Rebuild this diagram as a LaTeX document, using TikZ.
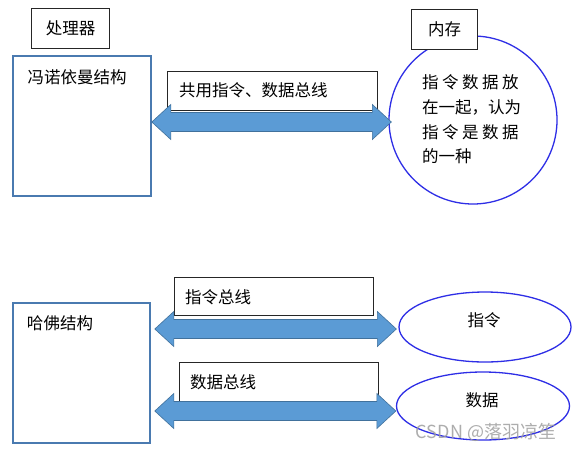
\documentclass[tikz,border=0pt]{standalone}
\usepackage{fontspec}
\setmainfont{Noto Sans CJK SC}
\usetikzlibrary{shapes.geometric,calc}
\definecolor{boxblue}{HTML}{4A7AB0}
\definecolor{ringblue}{HTML}{2E2EE6}
\definecolor{busfill}{HTML}{5B9BD5}
\definecolor{busline}{HTML}{41719C}
\newcommand\busarrow[2]{%
  \filldraw[busstyle] let \p1=(#1), \p2=(#2) in
  (\x1,\y1) -- (\x1+19pt,\y1+17.5pt) -- (\x1+19pt,\y1+9.5pt) -- (\x2-19pt,\y1+9.5pt)
  -- (\x2-19pt,\y1+17.5pt) -- (\x2,\y1) -- (\x2-19pt,\y1-17.5pt) -- (\x2-19pt,\y1-9.5pt)
  -- (\x1+19pt,\y1-9.5pt) -- (\x1+19pt,\y1-17.5pt) -- cycle;}
\begin{document}
\begin{tikzpicture}[x=1pt,y=-1pt,
  every node/.style={font=\fontsize{16.5}{20}\selectfont, inner sep=0pt},
  labelbox/.style={draw=black!85, line width=1pt, fill=white},
  archbox/.style={draw=boxblue, line width=1.8pt},
  ring/.style={draw=ringblue, line width=1.3pt, fill=white},
  busstyle/.style={fill=busfill, draw=busline, line width=0.6pt}]
\fill[white] (0,0) rectangle (575,450);
\useasboundingbox (0,0) rectangle (575,450);

% ---- von Neumann ----
\node[labelbox, anchor=north west, minimum width=78pt, minimum height=40pt] (proc) at (31,8) {处理器};
\node[archbox, anchor=north west, minimum width=138pt, minimum height=140pt] (vn) at (12,55) {};
\node (vnt) at (77,77) {冯诺依曼结构};
\node[labelbox, anchor=north west, minimum width=210pt, minimum height=39pt] (bus) at (167,71) {};
\node[anchor=west] (bust) at (179,90) {共用指令、数据总线};
\node[ring, circle, minimum size=168pt] (mem) at (473,120) {};
\node[labelbox, anchor=north west, minimum width=66pt, minimum height=40pt] (memlbl) at (411,9) {内存};
\node[anchor=west] (ct1) at (422,82) {指\kern3.5pt令\kern3.5pt数\kern3.5pt据\kern3.5pt放};
\node[anchor=west] (ct2) at (422,107) {在一起，认为};
\node[anchor=west] (ct3) at (422,132) {指\kern3.5pt令\kern3.5pt是\kern3.5pt数\kern3.5pt据};
\node[anchor=west] (ct4) at (422,156) {的一种};
\coordinate (y1) at (0,122);
\coordinate (a1l) at (vn.east |- y1);
\coordinate (a1r0) at ([xshift=3pt]mem.west);
\coordinate (a1r) at (a1r0 |- y1);
\busarrow{a1l}{a1r}

% ---- Harvard ----
\node[archbox, anchor=north west, minimum width=137pt, minimum height=140pt] (hv) at (12,302) {};
\node (hvt) at (60,323) {哈佛结构};
\node[labelbox, anchor=north west, minimum width=199pt, minimum height=38pt] (ibus) at (174,277) {};
\node[anchor=west] (ibust) at (185,297) {指令总线};
\node[ring, ellipse, minimum width=172pt, minimum height=70pt] (ins) at (485,327) {};
\node (inst) at (484,320) {指令};
\node[labelbox, anchor=north west, minimum width=199pt, minimum height=39pt] (dbus) at (179,362) {};
\node[anchor=west] (dbust) at (190,382) {数据总线};
\node[ring, ellipse, minimum width=173pt, minimum height=68pt] (dat) at (483,406) {};
\node (datt) at (482,400) {数据};

\coordinate (y2) at (0,329);
\coordinate (y3) at (0,411);
\coordinate (h0) at ([xshift=4pt]hv.east);
\coordinate (i0) at ([xshift=-2pt]ins.west);
\coordinate (d0) at ([xshift=0pt]dat.west);
\coordinate (a2l) at (h0 |- y2);
\coordinate (a2r) at (i0 |- y2);
\coordinate (a3l) at (h0 |- y3);
\coordinate (a3r) at (d0 |- y3);
\busarrow{a2l}{a2r}
\busarrow{a3l}{a3r}

\node[text=gray!75, opacity=0.85, font=\fontsize{18}{20}\selectfont] (wm) at (486,432) {CSDN @落羽凉笙};
\end{tikzpicture}
\end{document}
